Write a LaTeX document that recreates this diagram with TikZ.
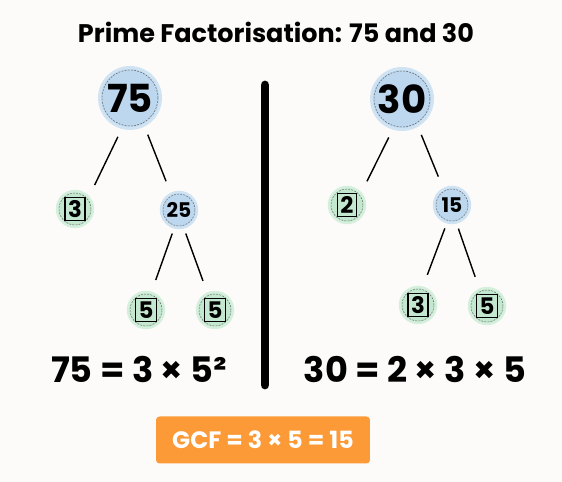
\documentclass[tikz,border=0pt]{standalone}
\usepackage{fontspec}
\setmainfont{Poppins}
\usetikzlibrary{positioning}
\definecolor{pfblue}{HTML}{BCD7EE}
\definecolor{pfbluering}{HTML}{D0E3F3}
\definecolor{pfgreen}{HTML}{C3E8CF}
\definecolor{pfgreenring}{HTML}{D5EFDD}
\definecolor{pforange}{HTML}{FB9A36}
\definecolor{pfpaper}{HTML}{FCFBFA}
\setlength{\fboxsep}{1.3pt}
\setlength{\fboxrule}{0.8pt}

\begin{document}
\begin{tikzpicture}[x=0.02cm, y=-0.02cm, font=\bfseries,
  ring/.style={path picture={\draw[black!60, dash pattern=on 1pt off 0.8pt, line width=0.3pt] (path picture bounding box.center) circle[radius=#1];}},
  bigball/.style={circle, fill=pfblue, draw=pfbluering, line width=1.7pt, minimum size=1.22cm, inner sep=0pt, ring=0.56cm, font=\bfseries\fontsize{22}{22}\selectfont},
  midball/.style={circle, fill=pfblue, draw=pfbluering, line width=1.4pt, minimum size=0.72cm, inner sep=0pt, ring=0.32cm, font=\bfseries\fontsize{11.5}{12}\selectfont},
  primeball/.style={midball, fill=pfgreen, draw=pfgreenring, font=\bfseries\fontsize{13}{13}\selectfont},
  branch/.style={line width=0.8pt, shorten <=#1, shorten >=7pt},
  eqtext/.style={anchor=base, font=\bfseries\fontsize{20}{20}\selectfont},
]
  \fill[pfpaper] (0,0) rectangle (562,482);
  \useasboundingbox (0,0) rectangle (562,482);

  \node[anchor=base, font=\bfseries\fontsize{14.5}{15}\selectfont] (title) at (276,43) {Prime Factorisation: 75 and 30};

  % tree of 75
  \node[bigball] (n75) at (130,98) {75};
  \node[primeball] (n3a) at (75,209) {\fbox{3}};
  \node[midball] (n25) at (179,210) {25};
  \node[primeball] (n5a) at (146,310) {\fbox{5}};
  \node[primeball] (n5b) at (215,310) {\fbox{5}};

  % tree of 30
  \node[bigball] (n30) at (402,99) {30};
  \node[primeball] (n2) at (347,205) {\fbox{2}};
  \node[midball] (n15) at (452,205) {15};
  \node[primeball] (n3b) at (418,305) {\fbox{3}};
  \node[primeball] (n5c) at (487,306) {\fbox{5}};

  \draw[branch=5pt] (n75.255) -- (n3a.42);
  \draw[branch=5pt] (n75.297) -- (n25.116);
  \draw[branch=3pt] (n25.255) -- (n5a.73);
  \draw[branch=3pt] (n25.285) -- (n5b.114);
  \draw[branch=5pt] (n30.253) -- (n2.41);
  \draw[branch=5pt] (n30.300) -- (n15.118);
  \draw[branch=3pt] (n15.254) -- (n3b.75);
  \draw[branch=3pt] (n15.284) -- (n5c.114);

  % divider
  \coordinate (bartop) at (265,85);
  \coordinate (barbot) at (265,385);
  \draw[line width=5pt, line cap=round] (bartop) -- (barbot);

  \node[eqtext] (eq75) at (139,383) {75 = 3 × 5²};
  \node[eqtext] (eq30) at (415,383) {30 = 2 × 3 × 5};

  \node[fill=pforange, text=white, rounded corners=2pt, minimum width=4.28cm, minimum height=0.94cm,
    font=\bfseries\fontsize{13.5}{14}\selectfont] (gcf) at (263,440) {GCF = 3 × 5 = 15};
\end{tikzpicture}
\end{document}
